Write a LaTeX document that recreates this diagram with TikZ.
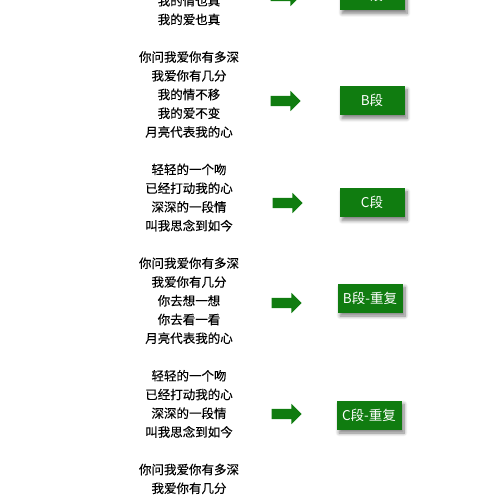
\documentclass[tikz,border=0pt]{standalone}
\usepackage{fontspec}
\setmainfont{Noto Sans CJK SC}
\newfontfamily\lyricfont[FakeBold=0.25]{Noto Sans CJK SC}
\definecolor{seggreen}{RGB}{16, 124, 16}
\usetikzlibrary{shapes.arrows, shadows.blur}
\tikzset{
	lyric/.style={align=center, inner sep=0pt, text=black, font=\lyricfont\fontsize{12.5}{18.75}\selectfont},
	segbox/.style={rectangle, fill=seggreen, text=white, minimum width=65pt, minimum height=29pt, inner sep=0pt, font=\fontsize{13.5}{15}\selectfont, blur shadow={shadow xshift=2.5pt, shadow yshift=-3.5pt, shadow blur radius=3.5pt, shadow blur steps=8, shadow opacity=50}},
	pointer/.style={single arrow, fill=seggreen, minimum height=30pt, inner xsep=0pt, inner ysep=5pt, single arrow head extend=5pt},
}

\begin{document}
\begin{tikzpicture}[x=1pt, y=-1pt]
		\useasboundingbox (0,0) rectangle (499,500);
		\node[lyric] (lyrA) at (189,10.1) {我的情也真\\我的爱也真};
		\node[lyric] (lyrB) at (189,94.5) {你问我爱你有多深\\我爱你有几分\\我的情不移\\我的爱不变\\月亮代表我的心};
		\node[lyric] (lyrC) at (189,197.6) {轻轻的一个吻\\已经打动我的心\\深深的一段情\\叫我思念到如今};
		\node[lyric] (lyrBr) at (189,300.75) {你问我爱你有多深\\我爱你有几分\\你去想一想\\你去看一看\\月亮代表我的心};
		\node[lyric] (lyrCr) at (189,403.9) {轻轻的一个吻\\已经打动我的心\\深深的一段情\\叫我思念到如今};
		\node[lyric] (lyrBn) at (189,478.9) {你问我爱你有多深\\我爱你有几分};
		\node[pointer] (ptA) at (283,-4) {};
		\node[pointer] (ptB) at (283,101) {};
		\node[pointer] (ptC) at (285,203) {};
		\node[pointer] (ptBr) at (284,303) {};
		\node[pointer] (ptCr) at (284,414) {};
		\node[segbox] (segA) at (372,-4.5) {A段};
		\node[segbox] (segB) at (372,100.5) {B段};
		\node[segbox] (segC) at (372,202.5) {C段};
		\node[segbox] (segBr) at (370,298) {B段-重复};
		\node[segbox] (segCr) at (369,415) {C段-重复};
	\end{tikzpicture}
\end{document}
